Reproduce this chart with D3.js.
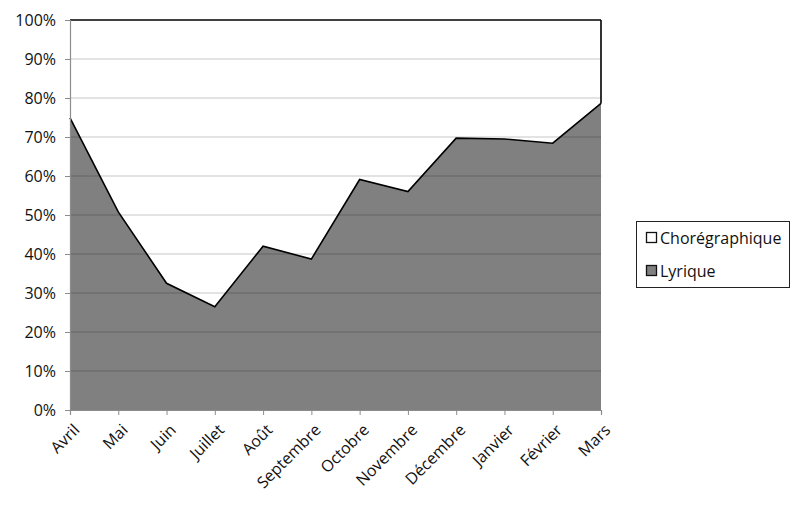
<!DOCTYPE html>
<html>
<head>
<meta charset="utf-8">
<script src="https://cdn.jsdelivr.net/npm/d3@7"></script>
<style>
  html, body { margin: 0; padding: 0; background: #fff; }
  svg text { font-family: "Open Sans", Lato, sans-serif; fill: #111; }
</style>
</head>
<body>
<svg id="chart" width="800" height="509"></svg>
<script>
const months = ["Avril", "Mai", "Juin", "Juillet", "Août", "Septembre", "Octobre", "Novembre", "Décembre", "Janvier", "Février", "Mars"];
const lyrique = [74.9, 50.8, 32.5, 26.5, 42.0, 38.7, 59.1, 56.0, 69.7, 69.5, 68.4, 78.6];
const choregraphique = [25.1, 49.2, 67.5, 73.5, 58.0, 61.3, 40.9, 44.0, 30.3, 30.5, 31.6, 21.4];
const seriesNames = ["Lyrique", "Chorégraphique"];
const yTicks = [0, 10, 20, 30, 40, 50, 60, 70, 80, 90, 100];

(function () {
const FONT = "'Open Sans', Lato, sans-serif";
const FS = 16;
const svg = d3.select("#chart");
const mLeft = 70, mRight = 601, mTop = 20, mBottom = 410;

const x = d3.scalePoint().domain(months).range([mLeft, mRight]);
const y = d3.scaleLinear().domain([0, 100]).range([mBottom, mTop]);

const rows = months.map((m, i) => ({ month: m, Lyrique: lyrique[i], "Chorégraphique": choregraphique[i] }));
const stacked = d3.stack().keys(seriesNames).offset(d3.stackOffsetExpand)(rows);

const area = d3.area()
  .x(d => x(d.data.month))
  .y0(d => y(d[0] * 100))
  .y1(d => y(d[1] * 100));

svg.append("path").datum(stacked[1]).attr("d", area).attr("fill", "#ffffff");
svg.append("path").datum(stacked[0]).attr("d", area).attr("fill", "#808080");

svg.append("g").selectAll("line").data(yTicks.filter(t => t > 0 && t < 100)).join("line")
  .attr("x1", mLeft).attr("x2", mRight)
  .attr("y1", d => y(d)).attr("y2", d => y(d))
  .attr("stroke", "rgba(0,0,0,0.22)").attr("stroke-width", 1);

const topLine = d3.line().x(d => x(d.data.month)).y(d => y(d[1] * 100));
svg.append("path").datum(stacked[0]).attr("d", topLine)
  .attr("fill", "none").attr("stroke", "#000").attr("stroke-width", 1.6);
svg.append("path").datum(stacked[1]).attr("d", topLine)
  .attr("fill", "none").attr("stroke", "#000").attr("stroke-width", 1.6);
const last = stacked[1][stacked[1].length - 1];
svg.append("line")
  .attr("x1", x(months[months.length - 1])).attr("x2", x(months[months.length - 1]))
  .attr("y1", y(last[0] * 100)).attr("y2", y(100))
  .attr("stroke", "#000").attr("stroke-width", 1.6);

const yAxis = svg.append("g").attr("transform", `translate(${mLeft},0)`)
  .call(d3.axisLeft(y).tickValues(yTicks).tickFormat(d => d + "%").tickSize(5).tickPadding(9));
yAxis.select(".domain").attr("stroke", "#8c8c8c").attr("stroke-width", 1.2);
yAxis.selectAll(".tick line").attr("stroke", "#8c8c8c");
yAxis.selectAll("text").attr("font-size", FS).attr("font-family", FONT).attr("fill", "#111");

const xAxis = svg.append("g").attr("transform", `translate(0,${mBottom})`)
  .call(d3.axisBottom(x).tickSize(5).tickPadding(4));
xAxis.select(".domain").attr("stroke", "#8c8c8c").attr("stroke-width", 1.2);
xAxis.selectAll(".tick line").attr("stroke", "#8c8c8c");
xAxis.selectAll("text")
  .attr("font-size", FS).attr("font-family", FONT).attr("fill", "#111")
  .attr("text-anchor", "end")
  .attr("y", 0)
  .attr("dy", "0")
  .attr("transform", "translate(10,21) rotate(-45)");

const lg = svg.append("g");
lg.append("rect").attr("x", 636.5).attr("y", 221.5).attr("width", 153).attr("height", 66)
  .attr("fill", "#fff").attr("stroke", "#222").attr("stroke-width", 1);
const legendItems = [
  { name: "Chorégraphique", fill: "#ffffff" },
  { name: "Lyrique", fill: "#808080" }
];
legendItems.forEach((it, i) => {
  const cy = 238 + i * 33;
  lg.append("rect").attr("x", 646.5).attr("y", cy - 5.5).attr("width", 10).attr("height", 10)
    .attr("fill", it.fill).attr("stroke", "#111").attr("stroke-width", 1.3);
  lg.append("text").attr("x", 660).attr("y", cy).attr("dy", "0.35em")
    .attr("font-size", FS).attr("font-family", FONT).text(it.name);
});
})();
</script>
</body>
</html>
